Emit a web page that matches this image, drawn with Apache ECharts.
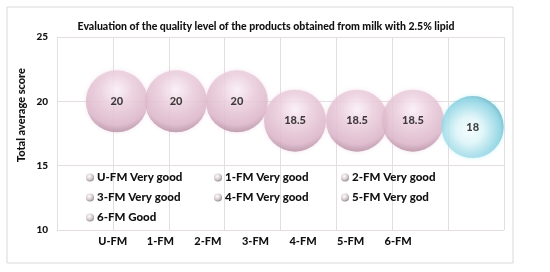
<!DOCTYPE html>
<html>
<head>
<meta charset="utf-8">
<script src="https://cdn.jsdelivr.net/npm/echarts@6/dist/echarts.min.js"></script>
<style>
  html, body { margin: 0; padding: 0; background: #fff; }
  #chart { width: 550px; height: 272px; }
</style>
</head>
<body>
<div id="chart"></div>
<script>
// bubble data
var names = ['U-FM Very good', '1-FM Very good', '2-FM Very good', '3-FM Very good',
             '4-FM Very good', '5-FM Very god', '6-FM Good'];
var xPos = [1.07, 2.13, 3.22, 4.26, 5.37, 6.37, 7.44];
var scores = [20, 20, 20, 18.5, 18.5, 18.5, 18];
var categories = ['U-FM', '1-FM', '2-FM', '3-FM', '4-FM', '5-FM', '6-FM'];
var yTicks = [10, 15, 20, 25];

var FONT = 'Lato';

var pink = {
    type: 'radial', x: 0.5, y: 0.32, r: 0.75,
    colorStops: [
        {offset: 0, color: '#fcf4f8'},
        {offset: 0.35, color: '#ebcfdd'},
        {offset: 0.75, color: '#dab4c7'},
        {offset: 1, color: '#9a7386'}
    ]
};
var teal = {
    type: 'radial', x: 0.45, y: 0.55, r: 0.7,
    colorStops: [
        {offset: 0, color: '#ffffff'},
        {offset: 0.3, color: '#e8f6f9'},
        {offset: 0.72, color: '#88cfe0'},
        {offset: 1, color: '#276f80'}
    ]
};
var grey = {
    type: 'radial', x: 0.4, y: 0.35, r: 0.7,
    colorStops: [
        {offset: 0, color: '#ffffff'},
        {offset: 0.6, color: '#c8bcc4'},
        {offset: 1, color: '#6e6268'}
    ]
};

var series = [];
for (var i = 0; i < names.length; i++) {
    series.push({
        name: names[i],
        type: 'scatter',
        xAxisIndex: 0,
        yAxisIndex: 0,
        symbolSize: 62,
        data: [[xPos[i], scores[i]]],
        itemStyle: {
            color: i === 6 ? teal : pink,
            shadowBlur: 4,
            shadowColor: i === 6 ? 'rgba(120,230,240,0.5)' : 'rgba(230,190,215,0.5)'
        },
        label: {
            show: true,
            position: 'inside',
            formatter: function (p) { return p.value[1]; },
            color: '#111',
            fontWeight: 900,
            fontSize: 11,
            fontFamily: FONT
        }
    });
}

function legendCol(left, items) {
    return {
        orient: 'vertical',
        left: left,
        top: 171,
        padding: 0,
        itemGap: 7,
        itemWidth: 8,
        itemHeight: 8,
        icon: 'circle',
        data: items,
        itemStyle: {color: grey, borderWidth: 0, shadowBlur: 0},
        textStyle: {color: '#111', fontWeight: 900, fontSize: 11.5, lineHeight: 13, fontFamily: FONT, padding: [0, 0, 0, -2]}
    };
}

var option = {
    backgroundColor: '#fff',
    animation: false,
    title: {
        text: 'Evaluation of the quality level of the products obtained from milk with 2.5% lipid',
        left: 261,
        top: 16,
        textAlign: 'center',
        textStyle: {fontSize: 10.5, fontWeight: 900, color: '#111', fontFamily: FONT}
    },
    graphic: [
        {
            type: 'rect', z: -10, silent: true,
            shape: {x: 7, y: 7, width: 506, height: 256},
            style: {fill: '#fff', stroke: '#d9d9d9', lineWidth: 1}
        },
        {
            type: 'text', left: 16, top: 68, rotation: Math.PI / 2,
            style: {
                text: 'Total average score', fill: '#111',
                font: '900 11px ' + FONT
            }
        }
    ],
    legend: [
        legendCol(86, [names[0], names[3], names[6]]),
        legendCol(214, [names[1], names[4]]),
        legendCol(341, [names[2], names[5]])
    ],
    grid: [
        {left: 57, right: 46, top: 37, bottom: 42},
        {left: 89, width: 333, top: 37, bottom: 42}
    ],
    xAxis: [
        {
            type: 'value', gridIndex: 0, min: 0, max: 8, interval: 1,
            axisLine: {show: false}, axisTick: {show: false}, axisLabel: {show: false},
            splitLine: {show: true, lineStyle: {color: '#e4dde1', width: 1}}
        },
        {
            type: 'category', gridIndex: 1, data: categories,
            axisLine: {show: false}, axisTick: {show: false}, splitLine: {show: false},
            axisLabel: {margin: 6, color: '#111', fontWeight: 900, fontSize: 11, fontFamily: FONT}
        }
    ],
    yAxis: [
        {
            type: 'value', gridIndex: 0, min: 10, max: 25, interval: 5,
            axisLine: {show: false}, axisTick: {show: false},
            axisLabel: {
                margin: 9, color: '#111', fontWeight: 900, fontSize: 10, fontFamily: FONT,
                formatter: function (v) { return yTicks.indexOf(v) >= 0 ? v : ''; }
            },
            splitLine: {show: true, lineStyle: {color: '#e4dde1', width: 1}}
        },
        {
            type: 'value', gridIndex: 1, show: false
        }
    ],
    series: series
};

var chart = echarts.init(document.getElementById('chart'));
chart.setOption(option);
</script>
</body>
</html>
